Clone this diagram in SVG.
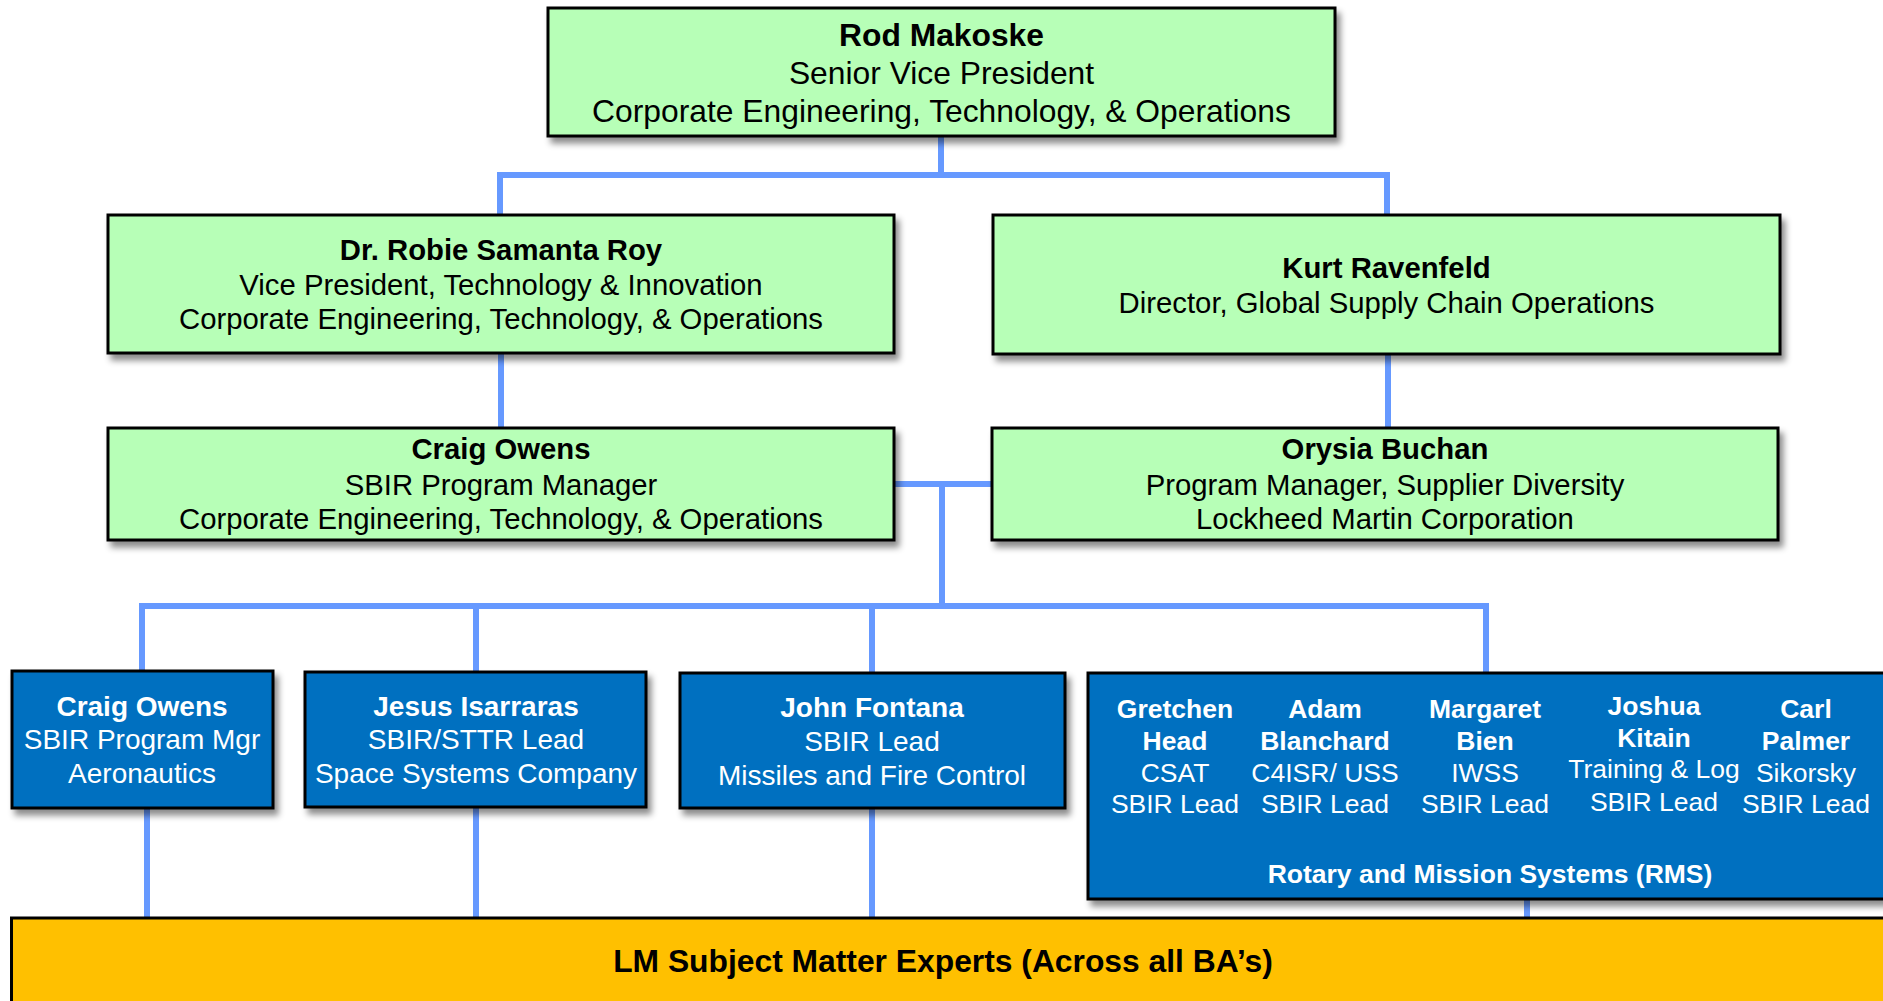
<svg xmlns="http://www.w3.org/2000/svg" width="1883" height="1001" viewBox="0 0 1883 1001">
<defs>
<filter id="sh" x="-5%" y="-10%" width="115%" height="130%">
<feDropShadow dx="4" dy="6" stdDeviation="3" flood-color="#000" flood-opacity="0.45"/>
</filter>
<style>
.g{fill:#B7FFB7;stroke:#000;stroke-width:3;filter:url(#sh)}
.b{fill:#0070C0;stroke:#000;stroke-width:3;filter:url(#sh)}
.y{fill:#FFC000;stroke:#000;stroke-width:3}
.c{fill:none;stroke:#6699FF;stroke-width:6}
text{font-family:"Liberation Sans",Arial,sans-serif;text-anchor:middle}
.k{fill:#000}
.w{fill:#fff}
.bd{font-weight:bold}
.f1{font-size:31.8px}
.f2{font-size:29.3px}
.f3{font-size:28px}
.f4{font-size:26.5px}
</style>
</defs>
<rect width="1883" height="1001" fill="#fff"/>
<g id="connectors" class="c">
<path d="M941 136V175M500 215V175H1387V215"/>
<path d="M501 353V428"/>
<path d="M1388 354V428"/>
<path d="M894 484H992M942 484V606"/>
<path d="M142 671V606H1486V673M476 606V672M872 606V673"/>
<path d="M147 808V918M476 807V918M872 808V918M1527 899V918"/>
</g>
<g id="rod">
<rect class="g" x="548" y="8" width="787" height="128"/>
<text class="k f1 bd" x="941.5" y="46">Rod Makoske</text>
<text class="k f1" x="941.5" y="84">Senior Vice President</text>
<text class="k f1" x="941.5" y="122">Corporate Engineering, Technology, &amp; Operations</text>
</g>
<g id="robie">
<rect class="g" x="108" y="215" width="786" height="138"/>
<text class="k f2 bd" x="501" y="260">Dr. Robie Samanta Roy</text>
<text class="k f2" x="501" y="295">Vice President, Technology &amp; Innovation</text>
<text class="k f2" x="501" y="329">Corporate Engineering, Technology, &amp; Operations</text>
</g>
<g id="kurt">
<rect class="g" x="993" y="215" width="787" height="139"/>
<text class="k f2 bd" x="1386.5" y="278">Kurt Ravenfeld</text>
<text class="k f2" x="1386.5" y="313">Director, Global Supply Chain Operations</text>
</g>
<g id="craig">
<rect class="g" x="108" y="428" width="786" height="112"/>
<text class="k f2 bd" x="501" y="459">Craig Owens</text>
<text class="k f2" x="501" y="495">SBIR Program Manager</text>
<text class="k f2" x="501" y="529">Corporate Engineering, Technology, &amp; Operations</text>
</g>
<g id="orysia">
<rect class="g" x="992" y="428" width="786" height="112"/>
<text class="k f2 bd" x="1385" y="459">Orysia Buchan</text>
<text class="k f2" x="1385" y="495">Program Manager, Supplier Diversity</text>
<text class="k f2" x="1385" y="529">Lockheed Martin Corporation</text>
</g>
<g id="aero">
<rect class="b" x="12" y="671" width="261" height="137"/>
<text class="w f3 bd" x="142" y="716">Craig Owens</text>
<text class="w f3" x="142" y="749">SBIR Program Mgr</text>
<text class="w f3" x="142" y="783">Aeronautics</text>
</g>
<g id="space">
<rect class="b" x="305" y="672" width="341" height="135"/>
<text class="w f3 bd" x="476" y="716">Jesus Isarraras</text>
<text class="w f3" x="476" y="749">SBIR/STTR Lead</text>
<text class="w f3" x="476" y="783">Space Systems Company</text>
</g>
<g id="mfc">
<rect class="b" x="680" y="673" width="385" height="135"/>
<text class="w f3 bd" x="872" y="717">John Fontana</text>
<text class="w f3" x="872" y="751">SBIR Lead</text>
<text class="w f3" x="872" y="785">Missiles and Fire Control</text>
</g>
<g id="rms">
<rect class="b" x="1088" y="673" width="820" height="226"/>
<text class="w f4 bd" x="1175" y="718">Gretchen</text>
<text class="w f4 bd" x="1175" y="750">Head</text>
<text class="w f4" x="1175" y="782">CSAT</text>
<text class="w f4" x="1175" y="813">SBIR Lead</text>
<text class="w f4 bd" x="1325" y="718">Adam</text>
<text class="w f4 bd" x="1325" y="750">Blanchard</text>
<text class="w f4" x="1325" y="782">C4ISR/ USS</text>
<text class="w f4" x="1325" y="813">SBIR Lead</text>
<text class="w f4 bd" x="1485" y="718">Margaret</text>
<text class="w f4 bd" x="1485" y="750">Bien</text>
<text class="w f4" x="1485" y="782">IWSS</text>
<text class="w f4" x="1485" y="813">SBIR Lead</text>
<text class="w f4 bd" x="1654" y="715">Joshua</text>
<text class="w f4 bd" x="1654" y="747">Kitain</text>
<text class="w f4" x="1654" y="778">Training &amp; Log</text>
<text class="w f4" x="1654" y="811">SBIR Lead</text>
<text class="w f4 bd" x="1806" y="718">Carl</text>
<text class="w f4 bd" x="1806" y="750">Palmer</text>
<text class="w f4" x="1806" y="782">Sikorsky</text>
<text class="w f4" x="1806" y="813">SBIR Lead</text>
<text class="w f4 bd" x="1490" y="883">Rotary and Mission Systems (RMS)</text>
</g>
<g id="sme">
<rect class="y" x="11.5" y="918" width="1900" height="100"/>
<text class="k f1 bd" x="943" y="972">LM Subject Matter Experts (Across all BA’s)</text>
</g>
</svg>
